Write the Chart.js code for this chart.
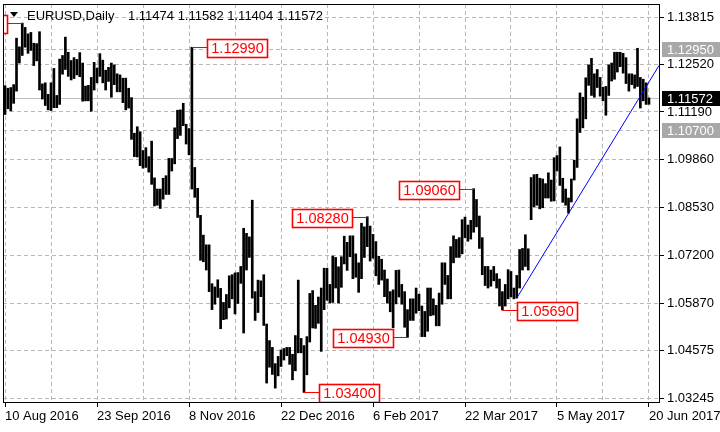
<!DOCTYPE html>
<html>
<head>
<meta charset="utf-8">
<script src="https://cdn.jsdelivr.net/npm/chart.js@4.4.0/dist/chart.umd.min.js"></script>
<style>
  html, body { margin: 0; padding: 0; background: #fff; }
  canvas { display: block; }
</style>
</head>
<body>
<canvas id="chart" width="720" height="432"></canvas>
<script>
// daily bars, 10 Aug 2016 .. 20 Jun 2017 (index = trading day)
const xTickLabels = ['10 Aug 2016', '23 Sep 2016', '8 Nov 2016', '22 Dec 2016',
  '6 Feb 2017', '22 Mar 2017', '5 May 2017', '20 Jun 2017'];
const yTicks = [1.13815, 1.12520, 1.11190, 1.09860, 1.08530, 1.07200, 1.05870, 1.04575, 1.03245];

const highs = [
  1.1192, 1.1185, 1.1187, 1.1195, 1.1324, 1.1300, 1.1366, 1.1354, 1.1336, 1.1340, 1.1310, 1.1309, 1.1342, 1.1197, 1.1200, 1.1168,
  1.1200, 1.1240, 1.1165, 1.1266, 1.1276, 1.1327, 1.1285, 1.1262, 1.1270, 1.1265, 1.1284, 1.1255, 1.1191, 1.1193, 1.1215, 1.1257,
  1.1241, 1.1281, 1.1263, 1.1235, 1.1243, 1.1255, 1.1250, 1.1225, 1.1222, 1.1213, 1.1213, 1.1185, 1.1159, 1.1060, 1.1078, 1.1064,
  1.1012, 1.1020, 1.0995, 1.1038, 1.0936, 1.0905, 1.0905, 1.0935, 1.0942, 1.0990, 1.0990, 1.1075, 1.1124, 1.1125, 1.1143, 1.1085,
  1.1073, 1.1299, 1.0965, 1.0907, 1.0832, 1.0777, 1.0750, 1.0750, 1.0642, 1.0633, 1.0653, 1.0629, 1.0590, 1.0612, 1.0664, 1.0667,
  1.0672, 1.0673, 1.0690, 1.0796, 1.0782, 1.0772, 1.0874, 1.0620, 1.0652, 1.0650, 1.0667, 1.0530, 1.0484, 1.0465, 1.0420, 1.0440,
  1.0458, 1.0462, 1.0465, 1.0465, 1.0446, 1.0498, 1.0652, 1.0490, 1.0470, 1.0495, 1.0615, 1.0623, 1.0582, 1.0605, 1.0630, 1.0685,
  1.0685, 1.0640, 1.0719, 1.0715, 1.0689, 1.0717, 1.0774, 1.0757, 1.0775, 1.0775, 1.0725, 1.0700, 1.0810, 1.0800, 1.0828, 1.0802,
  1.0779, 1.0759, 1.0718, 1.0710, 1.0680, 1.0655, 1.0620, 1.0625, 1.0679, 1.0680, 1.0640, 1.0620, 1.0570, 1.0600, 1.0600, 1.0630,
  1.0613, 1.0580, 1.0565, 1.0630, 1.0630, 1.0600, 1.0582, 1.0616, 1.0700, 1.0700, 1.0665, 1.0745, 1.0775, 1.0765, 1.0770, 1.0820,
  1.0827, 1.0805, 1.0818, 1.0906, 1.0876, 1.0830, 1.0770, 1.0690, 1.0690, 1.0680, 1.0690, 1.0670, 1.0655, 1.0620, 1.0640, 1.0681,
  1.0676, 1.0630, 1.0665, 1.0737, 1.0740, 1.0778, 1.0739, 1.0937, 1.0945, 1.0946, 1.0935, 1.0933, 1.0920, 1.0950, 1.0930, 1.0992,
  1.0998, 1.1022, 1.0935, 1.0905, 1.0880, 1.0933, 1.0985, 1.1100, 1.1172, 1.1160, 1.1214, 1.1250, 1.1268, 1.1225, 1.1237, 1.1215,
  1.1188, 1.1190, 1.1250, 1.1255, 1.1285, 1.1285, 1.1285, 1.1282, 1.1270, 1.1225, 1.1225, 1.1222, 1.1296, 1.1215, 1.1210, 1.1200,
  1.11582
];
const lows = [
  1.1112, 1.1128, 1.1122, 1.1143, 1.1177, 1.1255, 1.1276, 1.1299, 1.1282, 1.1290, 1.1248, 1.1261, 1.1180, 1.1155, 1.1137, 1.1125,
  1.1123, 1.1131, 1.1131, 1.1140, 1.1224, 1.1237, 1.1218, 1.1208, 1.1212, 1.1222, 1.1217, 1.1149, 1.1150, 1.1150, 1.1121, 1.1180,
  1.1200, 1.1218, 1.1200, 1.1180, 1.1204, 1.1160, 1.1195, 1.1175, 1.1175, 1.1145, 1.1125, 1.1130, 1.1043, 1.0995, 1.0994, 1.0970,
  1.0963, 1.0965, 1.0952, 1.0918, 1.0858, 1.0860, 1.0851, 1.0877, 1.0890, 1.0890, 1.0955, 1.0975, 1.1045, 1.1054, 1.1081, 1.1030,
  1.1000, 1.0905, 1.0882, 1.0826, 1.0707, 1.0703, 1.0680, 1.0620, 1.0570, 1.0585, 1.0604, 1.0517, 1.0542, 1.0544, 1.0575, 1.0600,
  1.0558, 1.0587, 1.0643, 1.0505, 1.0680, 1.0715, 1.0602, 1.0540, 1.0562, 1.0606, 1.0526, 1.0366, 1.0410, 1.0390, 1.0352, 1.0386,
  1.0412, 1.0430, 1.0442, 1.0418, 1.0375, 1.0400, 1.0450, 1.0450, 1.0340, 1.0389, 1.0480, 1.0519, 1.0518, 1.0532, 1.0454, 1.0570,
  1.0596, 1.0588, 1.0590, 1.0630, 1.0588, 1.0632, 1.0697, 1.0679, 1.0717, 1.0656, 1.0660, 1.0618, 1.0656, 1.0715, 1.0745, 1.0705,
  1.0713, 1.0664, 1.0640, 1.0652, 1.0606, 1.0588, 1.0564, 1.0520, 1.0586, 1.0605, 1.0585, 1.0521, 1.0493, 1.0540, 1.0540, 1.0560,
  1.0567, 1.0495, 1.0495, 1.0510, 1.0553, 1.0555, 1.0525, 1.0525, 1.0585, 1.0640, 1.0600, 1.0600, 1.0700, 1.0715, 1.0715, 1.0725,
  1.0770, 1.0760, 1.0766, 1.0785, 1.0800, 1.0740, 1.0667, 1.0637, 1.0630, 1.0635, 1.0650, 1.0630, 1.0580, 1.0569, 1.0580, 1.0600,
  1.0605, 1.0600, 1.0602, 1.0630, 1.0680, 1.0690, 1.0680, 1.0820, 1.0855, 1.0860, 1.0850, 1.0853, 1.0880, 1.0880, 1.0871, 1.0872,
  1.0955, 1.0915, 1.0868, 1.0860, 1.0838, 1.0869, 1.0930, 1.0965, 1.1062, 1.1075, 1.1100, 1.1193, 1.1165, 1.1160, 1.1187, 1.1163,
  1.1150, 1.1110, 1.1165, 1.1205, 1.1210, 1.1230, 1.1245, 1.1227, 1.1198, 1.1177, 1.1195, 1.1185, 1.1190, 1.1130, 1.1150, 1.1140,
  1.11404
];

const symbol = 'EURUSD,Daily';
const lastOHLC = [1.11474, 1.11582, 1.11404, 1.11572];
const levelLines = [1.12950, 1.10700];

// swing high / low marks: bar index, high or low, box side (-1 left, 1 right)
const markIdx  = [6, 65, 104, 126, 140, 163, 173];
const markHigh = [true, true, false, true, false, true, false];
const markSide = [-1, 1, 1, -1, -1, -1, 1];

// trend line through two bar lows, extended to the right edge
const trendFrom = [178, 1.0602];
const trendTo   = [196, 1.0837];

const xMin = -0.7, xMax = 227.48;
const yMin = 1.03134, yMax = 1.1419;

const FONT = '"Liberation Sans", Arial, sans-serif';
const gridColor = '#b8b8b8';

const slope = (trendTo[1] - trendFrom[1]) / (trendTo[0] - trendFrom[0]);
const trendData = [
  { x: trendFrom[0], y: trendFrom[1] },
  { x: xMax, y: trendFrom[1] + slope * (xMax - trendFrom[0]) }
];

const overlay = {
  id: 'overlay',
  beforeDatasetsDraw(chart) {
    const { ctx, chartArea: a, scales: { y } } = chart;
    ctx.save();
    ctx.lineWidth = 1;
    ctx.strokeStyle = gridColor;
    ctx.setLineDash([4, 3]);
    levelLines.forEach(v => {
      const py = Math.round(y.getPixelForValue(v)) + 0.5;
      ctx.beginPath(); ctx.moveTo(a.left, py); ctx.lineTo(a.right, py); ctx.stroke();
    });
    ctx.setLineDash([]);
    ctx.strokeStyle = '#c0c0c0';
    const cy = Math.round(y.getPixelForValue(lastOHLC[3])) + 0.5;
    ctx.beginPath(); ctx.moveTo(a.left, cy); ctx.lineTo(a.right, cy); ctx.stroke();
    ctx.restore();
  },
  afterDraw(chart) {
    const { ctx, chartArea: a, scales: { x, y } } = chart;
    ctx.save();

    // swing labels
    ctx.save();
    ctx.beginPath(); ctx.rect(a.left, a.top, a.right - a.left, a.bottom - a.top); ctx.clip();
    ctx.font = '14.5px ' + FONT;
    ctx.textBaseline = 'middle';
    ctx.textAlign = 'center';
    markIdx.forEach((idx, k) => {
      const v = markHigh[k] ? highs[idx] : lows[idx];
      const txt = v.toFixed(5);
      const px = x.getPixelForValue(idx);
      const py = Math.round(y.getPixelForValue(v)) + 0.5;
      const w = Math.round(ctx.measureText(txt).width) + 8, h = 18;
      const bx = markSide[k] > 0 ? Math.round(px + 15) : Math.round(px - 15 - w);
      const by = Math.round(py - h / 2);
      ctx.strokeStyle = '#ff0000';
      ctx.lineWidth = 1;
      ctx.beginPath();
      ctx.moveTo(px, py);
      ctx.lineTo(markSide[k] > 0 ? bx : bx + w, py);
      ctx.stroke();
      ctx.fillStyle = '#fff';
      ctx.fillRect(bx, by, w, h);
      ctx.lineWidth = 1.6;
      ctx.strokeRect(bx + 0.5, by + 0.5, w, h);
      ctx.fillStyle = '#ff0000';
      ctx.fillText(txt, bx + w / 2 + 0.5, by + h / 2 + 1);
    });
    ctx.restore();

    // frame
    ctx.strokeStyle = '#000';
    ctx.lineWidth = 1;
    ctx.strokeRect(a.left + 0.5, a.top + 0.5, a.right - a.left, a.bottom - a.top);

    // price tags on the axis
    ctx.font = '13px ' + FONT;
    ctx.textBaseline = 'middle';
    ctx.textAlign = 'left';
    const tags = [[levelLines[0], '#a8a8a8'], [lastOHLC[3], '#000'], [levelLines[1], '#a8a8a8']];
    tags.forEach(([v, col]) => {
      const py = Math.round(y.getPixelForValue(v));
      ctx.fillStyle = col;
      ctx.fillRect(a.right + 3, py - 7, 720 - a.right - 3, 15);
      ctx.fillStyle = '#fff';
      ctx.fillText(v.toFixed(5), a.right + 8, py + 1);
    });

    // header
    ctx.fillStyle = '#000';
    ctx.beginPath(); ctx.moveTo(10, 12); ctx.lineTo(18, 12); ctx.lineTo(14, 17); ctx.closePath(); ctx.fill();
    ctx.textBaseline = 'alphabetic';
    ctx.fillText(symbol, 27, 20);
    ctx.fillText(lastOHLC.map(v => v.toFixed(5)).join(' '), 128, 20);
    ctx.restore();
  }
};

new Chart(document.getElementById('chart'), {
  type: 'bar',
  data: {
    datasets: [
      {
        type: 'line',
        data: trendData,
        borderColor: '#0000ff',
        borderWidth: 1,
        pointRadius: 0,
        order: 1
      },
      {
        data: highs.map((h, i) => ({ x: i, y: [lows[i], h] })),
        backgroundColor: '#000',
        borderWidth: 0,
        barThickness: 2,
        grouped: false,
        order: 2
      }
    ]
  },
  options: {
    responsive: false,
    animation: false,
    devicePixelRatio: 1,
    layout: { padding: { left: 3, top: 4, right: 0, bottom: 0 }, autoPadding: false },
    plugins: { legend: { display: false }, tooltip: { enabled: false } },
    scales: {
      x: {
        type: 'linear',
        min: xMin, max: xMax,
        offset: false,
        afterBuildTicks: s => { s.ticks = xTickLabels.flatMap((_, k) => [{ value: k * 32 }, { value: k * 32 + 16 }]).filter(t => t.value <= 224); },
        afterFit: s => { s.height = 30; s.paddingLeft = 0; s.paddingRight = 0; },
        grid: {
          offset: false,
          color: gridColor,
          lineWidth: 1,
          tickLength: 5,
          tickColor: c => (c.tick && c.tick.value % 32 === 0 ? '#000' : 'rgba(0,0,0,0)')
        },
        border: { display: false, dash: [4, 3] },
        ticks: {
          autoSkip: false, maxRotation: 0, minRotation: 0,
          align: 'start', padding: 2, color: '#000',
          font: { family: FONT, size: 13 },
          callback: v => (v % 32 === 0 ? xTickLabels[v / 32] : '')
        }
      },
      y: {
        type: 'linear',
        position: 'right',
        min: yMin, max: yMax,
        afterBuildTicks: s => { s.ticks = yTicks.map(v => ({ value: v })); },
        afterFit: s => { s.width = 61; s.paddingTop = 0; s.paddingBottom = 0; },
        grid: { color: gridColor, lineWidth: 1, tickLength: 5, tickColor: '#000' },
        border: { display: false, dash: [4, 3] },
        ticks: {
          padding: 3, color: '#000',
          font: { family: FONT, size: 13 },
          callback: v => v.toFixed(5)
        }
      }
    }
  },
  plugins: [overlay]
});
</script>
</body>
</html>
